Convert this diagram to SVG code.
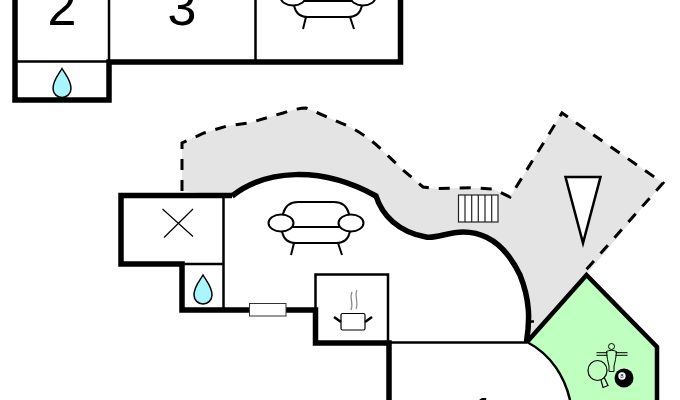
<svg xmlns="http://www.w3.org/2000/svg" width="680" height="400" viewBox="0 0 680 400">
<style>
.w{fill:none;stroke:#000;stroke-linecap:butt;stroke-linejoin:miter}
.t{stroke-width:5.500}.m{stroke-width:2.500}.i{fill:#fff;stroke:#000;stroke-width:2}
.ln{fill:none;stroke:#000;stroke-width:2}
.d{fill:none;stroke:#000;stroke-width:3;stroke-dasharray:11 10}
.drop{fill:#aaf6ff;stroke:#000;stroke-width:1.500}
.n{font-family:"Liberation Sans",Arial,sans-serif;font-size:52px;fill:#000;text-anchor:middle}
</style>
<defs>
<g id="sofa" class="ln">
<path class="i" d="M-33 3V-10Q-30 -22 -18 -22H18Q30 -22 33 -10V3Z"/>
<path class="i" d="M-34 3H34V7Q32 19 20 19H-20Q-32 19 -34 7Z"/>
<ellipse class="i" cx="-35" cy="-1" rx="12.500" ry="8.500"/>
<ellipse class="i" cx="35" cy="-1" rx="12.500" ry="8.500"/>
<path d="M-22 19L-25 31M22 19L26 31"/>
</g>
<path id="drop" class="drop" d="M0 -14.500C3 -9 9 -3 9 5.500A9 9 0 0 1 -9 5.500C-9 -3 -3 -9 0 -14.500Z"/>
</defs>
<g id="terrace">
<path d="M182 191V143L204 133L227 126L249 123L283 113C292 110 300 108 306 108L318 113L350 127C365 135 375 143 385 153L403 170L423 187L435 188.700L470 187.700L493 189L510 197L562 113L663 183L586 275L527 342C530 320 530 300 520 275C508 250 490 232 463 232C448 232 436 238.800 426 237C398 232 382 215 376 196C320 165 265 170 232 196Z" fill="#e4e4e4"/>
<path class="d" d="M182 191V143L204 133L227 126L249 123L283 113C292 110 300 108 306 108L318 113L350 127C365 135 375 143 385 153L403 170L423 187L435 188.700L470 187.700L493 189L510 197L562 113L663 183L586 270"/>
</g>
<g id="game-room">
<path d="M586.500 275L657 347V400H570C565 378 552 355 527 342Z" fill="#bfffbf"/>
<path fill="none" stroke="#000" stroke-width="4.500" d="M527 342L586.500 275L657 347V400"/>
<path fill="none" stroke="#000" stroke-width="2.500" d="M527 342C552 355 565 378 570 400"/>
<g fill="none" stroke="#000" stroke-width="1">
<circle cx="611.500" cy="346.500" r="3"/>
<path d="M596.500 352.700H607.500M615.500 352.700H627.500M596.500 355.300H607.500M615.500 355.300H627.500M606.500 351.500C607 358 608 362 609 366V371.500H614V366C615 362 616 358 616.500 351.500C614 350 609 350 606.500 351.500Z"/>
<ellipse cx="597.500" cy="370.500" rx="9.500" ry="10" stroke-width="1.200"/>
<path d="M601 380L603 387.500L608 385.500L604 377" stroke-width="1.200"/>
</g>
<circle cx="624" cy="378" r="9.500" fill="#000"/>
<circle cx="622" cy="376" r="3.700" fill="#fff"/>
<text x="622" y="378" font-family="Liberation Sans,sans-serif" font-size="6" text-anchor="middle">8</text>
</g>
<g id="room-top">
<path class="w t" d="M15 0V100H109V62H400.500V0"/>
<path class="w m" d="M15 61.500H109M109 0V62M255.500 0V62"/>
<text class="n" x="62" y="25">2</text>
<text class="n" x="182" y="25">3</text>
<use href="#drop" x="62" y="83"/>
<use href="#sofa" x="328" y="-2"/>
</g>
<g id="room-main">
<path class="w t" d="M232 195.500H121V264H182V310H249M286 310H315.500V343H389V400"/>
<path class="w t" d="M232 196C265 170 320 165 376 196C382 215 398 232 426 237C436 238.800 448 232 463 232C490 232 508 250 520 275C530 300 530 320 526.500 342"/>
<path class="w m" d="M223.500 195V310M182 264H223.500M315.500 343V274.500H388V343M388 342.500H527M527 321.500H534"/>
<rect x="249.500" y="303.500" width="36.500" height="12.500" fill="#fff" stroke="#333" stroke-width="1"/>
<path fill="none" stroke="#000" stroke-width="1.200" d="M162.500 209L193 236.500M193 209L164 237.500"/>
<use href="#drop" x="203" y="289.500"/>
<use href="#sofa" x="316" y="224"/>
<rect x="458.500" y="195" width="39.500" height="27" fill="#fff" stroke="#222" stroke-width="1.200"/>
<path fill="none" stroke="#222" stroke-width="1.200" d="M465 195V222M471.700 195V222M478.300 195V222M485 195V222M491.700 195V222"/>
<path fill="#fff" stroke="#000" stroke-width="2.500" d="M565.500 177H600.500L583 243Z"/>
<g fill="none">
<rect x="341" y="313.500" width="24" height="16.500" rx="1.500" fill="#fff" stroke="#000" stroke-width="1.200"/>
<path stroke="#000" stroke-width="2.500" d="M334 317L341 322M372 317L365 322"/>
<path stroke="#888" stroke-width="1.200" d="M352 292C349 298 354 303 351 310M357 290C354 296 359 302 356 309"/>
</g>
<text class="n" x="483" y="434">1</text>
</g>
</svg>
